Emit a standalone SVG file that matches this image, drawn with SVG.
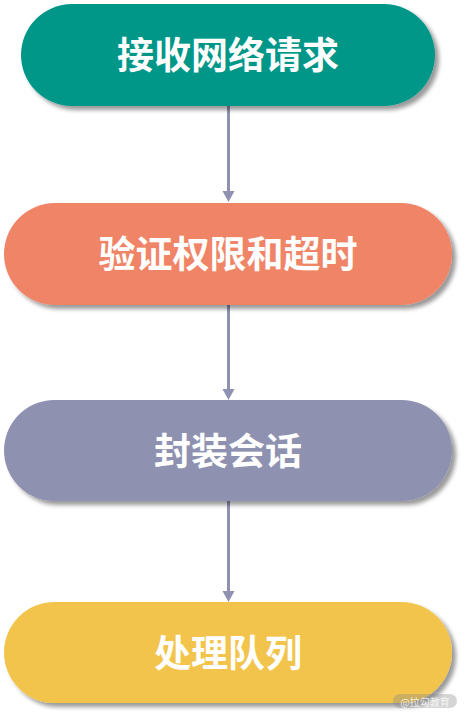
<svg xmlns="http://www.w3.org/2000/svg" width="465" height="717" viewBox="0 0 465 717">
<defs>
<filter id="sh" x="-10%" y="-20%" width="125%" height="150%">
<feGaussianBlur in="SourceAlpha" stdDeviation="2"/>
<feOffset dx="4" dy="4" result="b"/>
<feComponentTransfer><feFuncA type="linear" slope="0.4"/></feComponentTransfer>
<feMerge><feMergeNode/><feMergeNode in="SourceGraphic"/></feMerge>
</filter>
<marker id="ah" viewBox="0 0 12 12" markerWidth="12" markerHeight="12" refX="6" refY="11" orient="auto-start-reverse" markerUnits="userSpaceOnUse">
<path d="M0,0 L12,0 L6,11 Z" fill="#8E91B0"/>
</marker>
</defs>
<style>
.lbl{font-family:"Noto Sans CJK SC","Noto Sans",sans-serif;font-size:37px;font-weight:bold;fill:#ffffff;text-anchor:middle;dominant-baseline:central}
.edge{stroke:#8E91B0;stroke-width:3;fill:none}
</style>
<rect width="465" height="717" fill="#ffffff"/>
<g id="connectors">
<line class="edge" x1="228.5" y1="106" x2="228.5" y2="191"/>
<path d="M222.5,191 L234.5,191 L228.5,202 Z" fill="#8E91B0"/>
<line class="edge" x1="228.5" y1="305" x2="228.5" y2="389"/>
<path d="M222.5,389 L234.5,389 L228.5,400 Z" fill="#8E91B0"/>
<line class="edge" x1="228.5" y1="501" x2="228.5" y2="591"/>
<path d="M222.5,591 L234.5,591 L228.5,602 Z" fill="#8E91B0"/>
</g>
<g id="node1">
<rect x="21" y="4" width="414" height="102" rx="51" fill="#009688" filter="url(#sh)"/>
<text class="lbl" x="228" y="53">接收网络请求</text>
</g>
<g id="node2">
<rect x="4" y="203" width="448" height="102" rx="51" fill="#F08466" filter="url(#sh)"/>
<text class="lbl" x="228" y="252">验证权限和超时</text>
</g>
<g id="node3">
<rect x="4" y="400" width="448" height="101" rx="50.5" fill="#8E91B0" filter="url(#sh)"/>
<text class="lbl" x="228" y="449">封装会话</text>
</g>
<g id="node4">
<rect x="4" y="602" width="448" height="101" rx="50.5" fill="#F2C44C" filter="url(#sh)"/>
<text class="lbl" x="228" y="651">处理队列</text>
</g>
<g id="watermark">
<rect x="393" y="694" width="64" height="14" rx="7" fill="#888888" fill-opacity="0.35"/>
<text x="425" y="701" font-family="Noto Sans CJK SC, sans-serif" font-size="10" fill="#ffffff" fill-opacity="0.8" text-anchor="middle" dominant-baseline="central">@拉勾教育</text>
</g>
</svg>
